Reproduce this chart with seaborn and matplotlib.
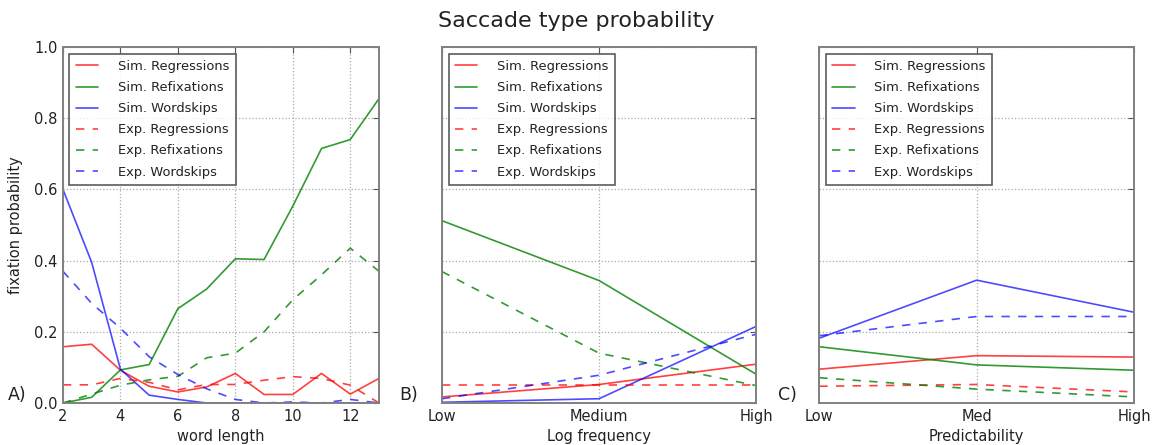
import numpy as np
import pandas as pd
import matplotlib
matplotlib.use("Agg")
import matplotlib.pyplot as plt
import seaborn as sns

# ---------------- data ----------------
word_length = [2, 3, 4, 5, 6, 7, 8, 9, 10, 11, 12, 13]
a_sim_regr = [0.158, 0.165, 0.092, 0.047, 0.031, 0.045, 0.083, 0.024, 0.024, 0.083, 0.025, 0.069]
a_sim_refix = [0.0, 0.016, 0.093, 0.108, 0.265, 0.32, 0.405, 0.403, 0.553, 0.715, 0.74, 0.855]
a_sim_skip = [0.60, 0.395, 0.095, 0.022, 0.010, 0.0, 0.0, 0.0, 0.0, 0.0, 0.0, 0.0]
a_exp_regr = [0.051, 0.051, 0.069, 0.058, 0.037, 0.052, 0.052, 0.064, 0.074, 0.069, 0.050, 0.0]
a_exp_refix = [0.0, 0.025, 0.05, 0.065, 0.075, 0.127, 0.14, 0.2, 0.29, 0.36, 0.435, 0.37]
a_exp_skip = [0.37, 0.28, 0.21, 0.13, 0.08, 0.04, 0.01, 0.0, 0.003, 0.0, 0.01, 0.0]

freq_levels = ["Low", "Medium", "High"]
b_sim_regr = [0.017, 0.052, 0.109]
b_sim_refix = [0.512, 0.344, 0.081]
b_sim_skip = [0.002, 0.012, 0.215]
b_exp_regr = [0.051, 0.051, 0.051]
b_exp_refix = [0.369, 0.140, 0.049]
b_exp_skip = [0.012, 0.078, 0.193]

pred_levels = ["Low", "Med", "High"]
c_sim_regr = [0.095, 0.133, 0.129]
c_sim_refix = [0.158, 0.107, 0.092]
c_sim_skip = [0.182, 0.345, 0.255]
c_exp_regr = [0.047, 0.052, 0.031]
c_exp_refix = [0.071, 0.039, 0.017]
c_exp_skip = [0.189, 0.243, 0.243]

series_labels = ["Sim. Regressions", "Sim. Refixations", "Sim. Wordskips",
                 "Exp. Regressions", "Exp. Refixations", "Exp. Wordskips"]
y_ticks = [0.0, 0.2, 0.4, 0.6, 0.8, 1.0]

# --------------- styling --------------
sns.set_style("white")
plt.rcParams['font.family'] = ['DejaVu Sans']

colors = ["#ff0000", "#008000", "#0000ff", "#ff0000", "#008000", "#0000ff"]
alphas = [0.75, 0.8, 0.7, 0.75, 0.8, 0.7]
styles = ["-", "-", "-", (0, (5, 5)), (0, (5, 5)), (0, (5, 5))]

fig = plt.figure(figsize=(11.53, 4.45), dpi=100)
bottom, height = 0.0944, 0.80
ax_a = fig.add_axes([0.0546, bottom, 0.2741, height])
ax_b = fig.add_axes([0.3834, bottom, 0.2723, height])
ax_c = fig.add_axes([0.7106, bottom, 0.2729, height])

panels = [
    (ax_a, word_length, [a_sim_regr, a_sim_refix, a_sim_skip, a_exp_regr, a_exp_refix, a_exp_skip], "word length"),
    (ax_b, freq_levels, [b_sim_regr, b_sim_refix, b_sim_skip, b_exp_regr, b_exp_refix, b_exp_skip], "Log frequency"),
    (ax_c, pred_levels, [c_sim_regr, c_sim_refix, c_sim_skip, c_exp_regr, c_exp_refix, c_exp_skip], "Predictability"),
]

for ax, xs, ys, xlabel in panels:
    for yv, lab, col, al, ls in zip(ys, series_labels, colors, alphas, styles):
        df = pd.DataFrame({"x": xs, "y": yv})
        sns.lineplot(data=df, x="x", y="y", ax=ax, color=col, alpha=al,
                     linestyle=ls, linewidth=1.2, label=lab, sort=False)
    ax.set_ylim(0, 1.0)
    ax.set_yticks(y_ticks)
    ax.set_xlabel(xlabel, fontsize=10.5, color="#222222", labelpad=4)
    ax.set_ylabel("")
    ax.grid(True, linestyle=":", color="#aaaaaa", linewidth=0.9)
    for s in ax.spines.values():
        s.set_color("#808080")
        s.set_linewidth(1.4)
        s.set_visible(True)
    ax.tick_params(direction="in", top=True, right=True, length=4, width=0.8,
                   color="#555555", labelsize=10.5, labelcolor="#222222", pad=4)
    leg = ax.legend(loc="upper left", fontsize=9.4, frameon=True, fancybox=False,
                    handlelength=1.7, handletextpad=1.5, labelspacing=0.62,
                    borderpad=0.5, borderaxespad=0.5)
    leg.get_frame().set_edgecolor("#333333")
    leg.get_frame().set_linewidth(1.2)
    for t in leg.get_texts():
        t.set_color("#222222")

ax_a.set_xlim(2, 13)
ax_a.set_xticks([2, 4, 6, 8, 10, 12])
ax_a.set_ylabel("fixation probability", fontsize=10.5, color="#222222", labelpad=8)
for ax in (ax_b, ax_c):
    ax.set_xlim(-0.0, 2.0)
    ax.tick_params(labelleft=False)

fig.text(0.007, 0.093, "A)", fontsize=12.5, color="#222222", ha="left", va="bottom")
fig.text(0.3465, 0.093, "B)", fontsize=12.5, color="#222222", ha="left", va="bottom")
fig.text(0.6745, 0.093, "C)", fontsize=12.5, color="#222222", ha="left", va="bottom")

fig.suptitle("Saccade type probability", fontsize=16, color="#222222", y=0.975)

fig.savefig("out.png", dpi=100, facecolor="white")
